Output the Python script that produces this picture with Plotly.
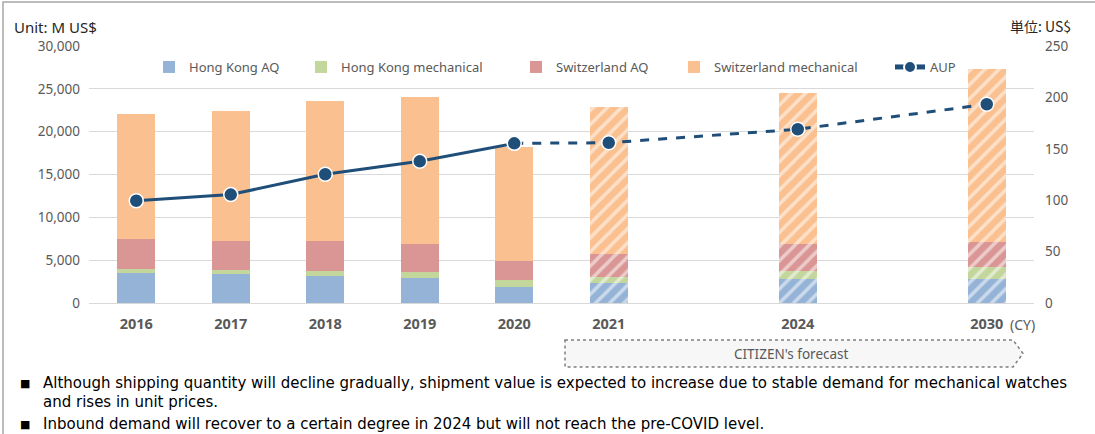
import plotly.graph_objects as go

# ---------------- data ----------------
years = ["2016", "2017", "2018", "2019", "2020", "2021", "2024", "2030"]
axis_slots = ["2016", "2017", "2018", "2019", "2020", "2021", "gap1", "2024", "gap2", "2030"]
tick_labels = ["2016", "2017", "2018", "2019", "2020", "2021", "2024", "2030"]

hk_aq = [3470, 3350, 3150, 2920, 1900, 2370, 2800, 2840]
hk_mech = [460, 540, 585, 660, 820, 660, 970, 1400]
sw_aq = [3540, 3350, 3535, 3340, 2150, 2730, 3150, 2880]
sw_mech = [14590, 15170, 16310, 17090, 13340, 17120, 17590, 20160]

aup_hist_years = ["2016", "2017", "2018", "2019", "2020"]
aup_hist = [99.5, 105.5, 125.2, 137.8, 155.3]
aup_fc_years = ["2020", "2021", "2024", "2030"]
aup_fc = [155.3, 155.9, 169.0, 193.3]

forecast_flags = [False, False, False, False, False, True, True, True]

series_names = ["Hong Kong AQ", "Hong Kong mechanical", "Switzerland AQ", "Switzerland mechanical"]
series_vals = [hk_aq, hk_mech, sw_aq, sw_mech]
series_colors = ["#95B3D7", "#C3D69B", "#D99694", "#FAC090"]
legend_widths = [107, 170, 113, 171]

bullet1 = "Although shipping quantity will decline gradually, shipment value is expected to increase due to stable demand for mechanical watches"
bullet1b = "and rises in unit prices."
bullet2 = "Inbound demand will recover to a certain degree in 2024 but will not reach the pre-COVID level."

# ---------------- layout geometry ----------------
W, H = 1095, 434
L, R, T, B = 89, 1034, 46, 303


def px(x):
    return (x - L) / (R - L)


def py(y):
    return (B - y) / (B - T)


FONT = "Noto Sans"
BFONT = "DejaVu Sans"
GRAY = "#595959"
NAVY = "#1F4E79"

fig = go.Figure()

shapes_pat = ["/" if f else "" for f in forecast_flags]
for name, vals, col, lw in zip(series_names, series_vals, series_colors, legend_widths):
    fig.add_trace(go.Bar(
        x=years, y=vals, name=name,
        marker=dict(
            color=col,
            line=dict(width=0),
            pattern=dict(shape=shapes_pat, fgcolor="white", bgcolor=col,
                         fillmode="overlay", size=10, solidity=0.35),
        ),
        width=0.4,
        legendwidth=lw,
        hoverinfo="skip",
    ))

fig.add_trace(go.Scatter(
    x=aup_hist_years, y=aup_hist, name="AUP", yaxis="y2",
    mode="lines+markers",
    line=dict(color=NAVY, width=3),
    marker=dict(size=14, color=NAVY, line=dict(color="white", width=1.5)),
))
fig.add_trace(go.Scatter(
    x=aup_fc_years, y=aup_fc, name="AUP (forecast)", yaxis="y2",
    mode="lines+markers", showlegend=False,
    line=dict(color=NAVY, width=3, dash="dash"),
    marker=dict(size=14, color=NAVY, line=dict(color="white", width=1.5)),
))


def ann(text, x, y, anchor="left", size=13, color=GRAY, family=FONT):
    return dict(text=text, x=px(x), y=py(y), xref="paper", yref="paper",
                xanchor=anchor, yanchor="middle", showarrow=False,
                font=dict(family=family, size=size, color=color))


annotations = [
    ann("Unit: M US$", 12, 27, size=15, color="#262626"),
    ann("単位: US$", 1073, 26, anchor="right", size=14, color="#262626", family="Noto Sans CJK JP"),
    ann("(CY)", 1008, 324, size=14),
    ann("CITIZEN's forecast", 791, 354, anchor="center", size=13.5),
    ann("■", 18, 383, size=11, color="#000000", family=BFONT),
    ann(bullet1, 41, 383, size=15, color="#000000", family=BFONT),
    ann(bullet1b, 41, 402, size=15, color="#000000", family=BFONT),
    ann("■", 18, 424, size=11, color="#000000", family=BFONT),
    ann(bullet2, 41, 424, size=15, color="#000000", family=BFONT),
]

# forecast arrow box path (paper coords)
bx0, bx1, btip, by0, by1 = 565, 1013, 1023, 340, 367
path = (f"M {px(bx0)},{py(by0)} L {px(bx1)},{py(by0)} L {px(btip)},{py((by0+by1)/2)} "
        f"L {px(bx1)},{py(by1)} L {px(bx0)},{py(by1)} Z")
shapes = [
    dict(type="path", path=path, xref="paper", yref="paper",
         line=dict(color="#7F7F7F", width=1.5, dash="dot"), fillcolor="#F7F7F7", layer="below"),
    dict(type="rect", xref="paper", yref="paper",
         x0=px(3), x1=px(1110), y0=py(2), y1=py(450),
         line=dict(color="#A6A6A6", width=1.5), fillcolor="rgba(0,0,0,0)"),
]

fig.update_layout(
    width=W, height=H,
    margin=dict(l=L, r=W - R, t=T, b=H - B),
    paper_bgcolor="white", plot_bgcolor="white",
    barmode="stack",
    font=dict(family=FONT, size=13, color=GRAY),
    xaxis=dict(
        type="category", categoryorder="array", categoryarray=axis_slots,
        range=[-0.5, len(axis_slots) - 0.5],
        tickmode="array", tickvals=tick_labels, ticktext=[f"<b>{t}</b>" for t in tick_labels],
        tickfont=dict(family=FONT, size=14.5, color=GRAY),
        showgrid=False, showline=False, ticks="", ticklabelstandoff=10,
    ),
    yaxis=dict(
        range=[0, 30000], tickvals=[0, 5000, 10000, 15000, 20000, 25000, 30000],
        tickformat=",", showgrid=True, gridcolor="#D9D9D9", gridwidth=1,
        zeroline=True, zerolinecolor="#D9D9D9", zerolinewidth=1,
        tickfont=dict(family=FONT, size=13.5, color=GRAY), ticks="", ticklabelstandoff=8,
    ),
    yaxis2=dict(
        range=[0, 250], tickvals=[0, 50, 100, 150, 200, 250],
        overlaying="y", side="right", showgrid=False, zeroline=False,
        tickfont=dict(family=FONT, size=13.5, color=GRAY), ticks="", ticklabelstandoff=10,
    ),
    legend=dict(
        orientation="h", x=px(149), y=py(67), xanchor="left", yanchor="middle",
        font=dict(family=FONT, size=13, color=GRAY), bgcolor="rgba(0,0,0,0)",
        traceorder="normal", itemwidth=30, itemsizing="constant",
    ),
    annotations=annotations,
    shapes=shapes,
    showlegend=True,
)

fig.write_html("out.html")
